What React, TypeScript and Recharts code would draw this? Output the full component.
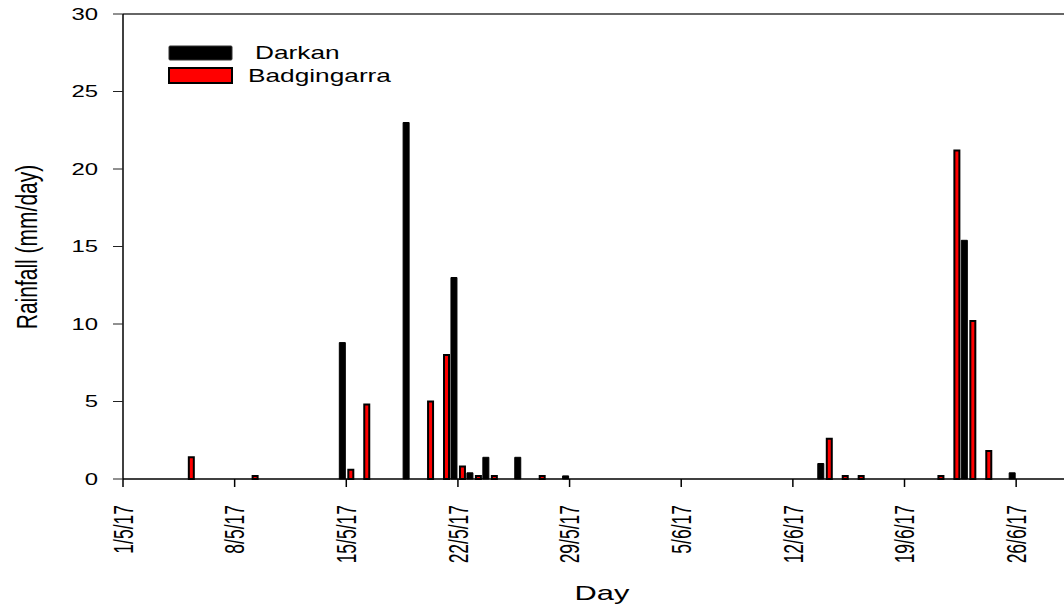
import { BarChart, Bar, XAxis, YAxis, Legend, ReferenceLine, Label } from 'recharts'

// day offset from 1/5/17 for every day that had rain at either station
const days = [4, 8, 14, 15, 18, 19, 20, 21, 22, 23, 25, 26, 28, 44, 45, 46, 51, 52, 53, 54, 56]
const darkan = [null, null, 8.8, null, 23, null, null, 13, 0.4, 1.4, 1.4, null, 0.2, 1.0, null, null, null, null, 15.4, null, 0.4]
const badgingarra = [1.4, 0.2, 0.6, 4.8, null, 5.0, 8.0, 0.8, 0.2, 0.2, null, 0.2, null, 2.6, 0.2, 0.2, 0.2, 21.2, 10.2, 1.8, null]

const xTicks = [0, 7, 14, 21, 28, 35, 42, 49, 56]
const xTickLabels = ['1/5/17', '8/5/17', '15/5/17', '22/5/17', '29/5/17', '5/6/17', '12/6/17', '19/6/17', '26/6/17']
const yTicks = [0, 5, 10, 15, 20, 25, 30]

const FONT = '"Liberation Sans", Arial, sans-serif'

const data = days.map((d, i) => ({
  day: d,
  darkan: darkan[i],
  badgingarra: badgingarra[i],
}))

function XTick({ x, y, payload }: any) {
  const label = xTickLabels[xTicks.indexOf(payload.value)]
  return (
    <text
      transform={`translate(${x},${y + 16}) scale(1.55,1) rotate(-90)`}
      textAnchor="end"
      dy="0.36em"
      fontSize={17.5}
      fontFamily={FONT}
      fill="#000"
    >
      {label}
    </text>
  )
}

function YTick({ x, y, payload }: any) {
  return (
    <text
      transform={`translate(${x - 13},${y}) scale(1.45,1)`}
      textAnchor="end"
      dy="0.36em"
      fontSize={16.5}
      fontFamily={FONT}
      fill="#000"
    >
      {payload.value}
    </text>
  )
}

function DayLabel() {
  return (
    <text transform="translate(602,600) scale(1.47,1)" textAnchor="middle" fontSize={21} fontFamily={FONT} fill="#000">
      Day
    </text>
  )
}

function RainLabel() {
  return (
    <text
      transform="translate(36.5,247) scale(1.4,1) rotate(-90)"
      textAnchor="middle"
      fontSize={21}
      fontFamily={FONT}
      fill="#000"
    >
      Rainfall (mm/day)
    </text>
  )
}

function LegendBox() {
  return (
    <svg width={260} height={50} style={{ display: 'block', overflow: 'visible' }}>
      <rect x={9} y={6} width={63} height={14} rx={1} fill="#000" stroke="#333" strokeWidth={1} />
      <rect x={9} y={28} width={63} height={15} fill="#ff0000" stroke="#000" strokeWidth={2} />
      <text transform="translate(95,19) scale(1.5,1)" fontSize={17.5} fontFamily={FONT} fill="#000">
        Darkan
      </text>
      <text transform="translate(88,42) scale(1.5,1)" fontSize={17.5} fontFamily={FONT} fill="#000">
        Badgingarra
      </text>
    </svg>
  )
}

export default function App() {
  return (
    <div style={{ position: 'absolute', left: 0, top: 0 }}>
      <BarChart width={1064} height={606} data={data} barGap={3} margin={{ top: 14, right: 0, bottom: 0, left: 0 }}>
        <XAxis
          type="number"
          dataKey="day"
          domain={[0, 59]}
          ticks={xTicks}
          allowDataOverflow
          height={127}
          tickSize={8}
          tick={<XTick />}
          axisLine={{ stroke: '#000', strokeWidth: 1.5 }}
          tickLine={{ stroke: '#000', strokeWidth: 1.5 }}
        >
          <Label content={<DayLabel />} />
        </XAxis>
        <YAxis
          domain={[0, 30]}
          ticks={yTicks}
          width={123}
          tickSize={10}
          tick={<YTick />}
          axisLine={{ stroke: '#000', strokeWidth: 1.5 }}
          tickLine={{ stroke: '#222', strokeWidth: 1 }}
        >
          <Label content={<RainLabel />} />
        </YAxis>
        <ReferenceLine y={30} stroke="#333" strokeWidth={1.5} />
        <Legend
          layout="horizontal"
          verticalAlign="middle"
          align="left"
          wrapperStyle={{ left: 160, top: 40, width: 0, height: 0, overflow: 'visible' }}
          content={() => <LegendBox />}
        />
        <Bar dataKey="darkan" name="Darkan" fill="#000" stroke="#000" strokeWidth={1} barSize={6} isAnimationActive={false} />
        <Bar
          dataKey="badgingarra"
          name="Badgingarra"
          fill="#ff0000"
          stroke="#000"
          strokeWidth={2}
          barSize={5}
          isAnimationActive={false}
        />
      </BarChart>
    </div>
  )
}
